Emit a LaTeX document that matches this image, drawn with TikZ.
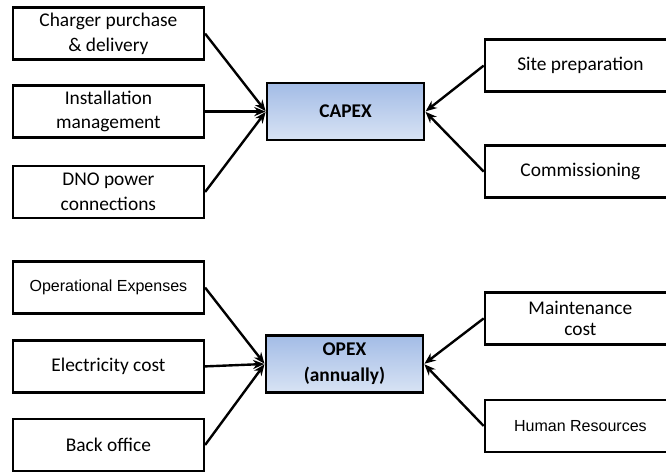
\documentclass[tikz,border=0pt]{standalone}
\usepackage{fontspec}
\setmainfont{Carlito}
\newfontfamily\arialfont{Liberation Sans}
\usepackage{tikz}
\usetikzlibrary{arrows.meta,positioning}

\definecolor{costtop}{RGB}{163,188,230}
\definecolor{costbot}{RGB}{216,227,244}

\begin{document}
\begin{tikzpicture}[
  >={Stealth[length=8pt,width=6.5pt]}, font=\fontsize{13.8}{17.5}\selectfont,
  item/.style={draw, line width=1.7pt, minimum width=4.775cm,
               minimum height=1.3cm, align=center, inner sep=2pt},
  cost/.style={draw, line width=1.7pt, minimum width=3.925cm,
               minimum height=1.42cm, align=center, font=\fontsize{13.8}{18.5}\selectfont\bfseries,
               top color=costtop, bottom color=costbot},
  feed/.style={->, line width=1.7pt, shorten >=0.3pt},
  small/.style={font=\arialfont\fontsize{11.4}{13}\selectfont},
]
  \clip (0,0) rectangle (16.65,11.8);

  % capital costs
  \node[cost] (capex) at (8.64,9.01) {CAPEX};
  \node[item] (charger) at (2.71,10.96) {Charger purchase\\\& delivery};
  \node[item] (install) at (2.71,9.01) {Installation\\management};
  \node[item] (dno) at (2.71,7.0) {DNO power\\connections};
  \node[item] (site) at (14.51,10.16) {Site preparation};
  \node[item] (commission) at (14.51,7.51) {Commissioning};

  % running costs
  \node[cost] (opex) at (8.61,2.70) {OPEX\\(annually)};
  \node[item, small] (operational) at (2.71,4.61) {Operational Expenses};
  \node[item] (electricity) at (2.71,2.64) {Electricity cost};
  \node[item] (backoffice) at (2.71,0.675) {Back office};
  \node[item, font=\fontsize{13.8}{14.5}\selectfont] (maintenance) at (14.51,3.84)
    {Maintenance\\cost};
  \node[item, small] (staff) at (14.51,1.15) {Human Resources};

  \foreach \src in {charger,install,dno}
    \draw[feed] (\src.east) -- (capex.west);
  \foreach \src in {site,commission}
    \draw[feed] (\src.west) -- (capex.east);

  \foreach \src in {operational,electricity,backoffice}
    \draw[feed] (\src.east) -- (opex.west);
  \foreach \src in {maintenance,staff}
    \draw[feed] (\src.west) -- (opex.east);
\end{tikzpicture}
\end{document}
